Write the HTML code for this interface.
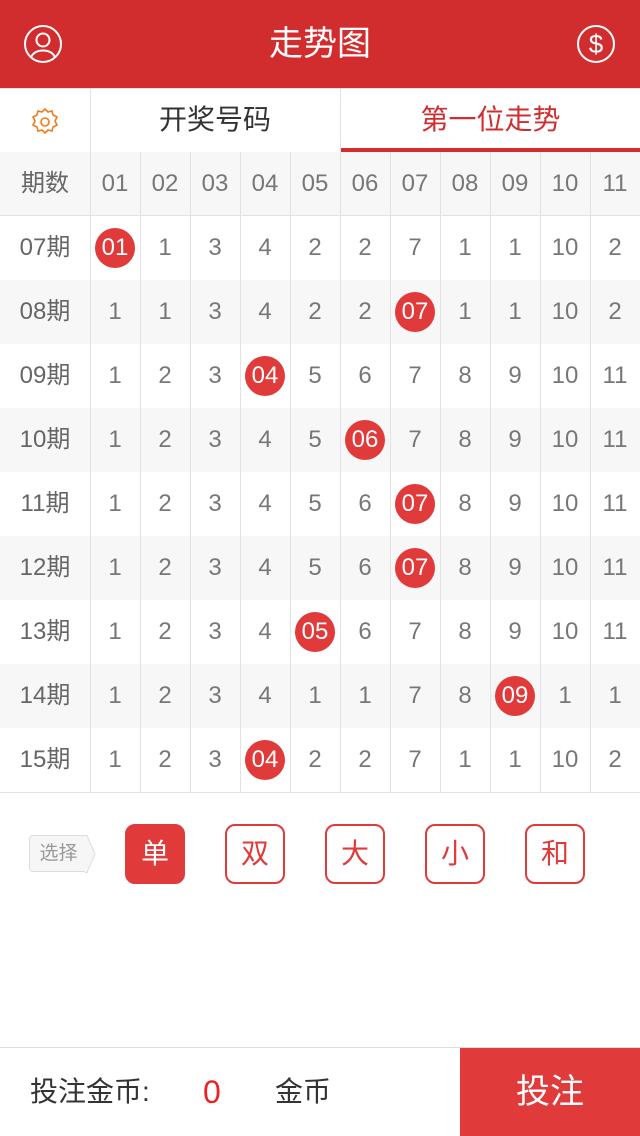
<!DOCTYPE html>
<html><head><meta charset="utf-8"><style>
*{margin:0;padding:0;box-sizing:border-box}
body{width:640px;height:1136px;position:relative;background:#fff;font-family:"Liberation Sans","Noto Sans CJK SC",sans-serif;overflow:hidden}
.abs{position:absolute}
#hdr{left:0;top:0;width:640px;height:88px;background:#d12d2f;color:#fff;font-size:34px;text-align:center;line-height:88px}
.tab{top:88px;height:64px;line-height:64px;text-align:center;font-size:28px}
.cell{position:absolute;height:64px;line-height:64px;text-align:center;font-size:24px;color:#777}
.vl{position:absolute;width:1px;background:#e2e2e2}
.dot{position:absolute;width:40px;height:40px;border-radius:20px;background:#e03a3b;color:#fff;text-align:center;line-height:40px;font-size:24px}
.opt{position:absolute;top:824px;width:60px;height:60px;border:2px solid #e03a3b;border-radius:10px;color:#e03a3b;font-size:28px;text-align:center;line-height:56px}
</style></head><body>
<div id="hdr" class="abs">走势图</div>
<svg class="abs" style="left:23px;top:24px" width="40" height="40"><circle cx="20" cy="20" r="18" fill="none" stroke="#fff" stroke-width="2"/><circle cx="20" cy="16" r="6.5" fill="none" stroke="#fff" stroke-width="2"/><path d="M8 34 C10 24 30 24 32 34" fill="none" stroke="#fff" stroke-width="2"/></svg>
<svg class="abs" style="left:576px;top:24px" width="40" height="40"><circle cx="20" cy="20" r="18" fill="none" stroke="#fff" stroke-width="2"/><text x="20" y="29" text-anchor="middle" fill="#fff" font-size="26" font-family="Liberation Sans">$</text></svg>
<div class="abs" style="left:0;top:88px;width:640px;height:1px;background:#e2e2e2"></div>
<svg class="abs" style="left:30px;top:107px" width="30" height="30"><circle cx="15" cy="15" r="4" fill="none" stroke="#f07b1d" stroke-width="1.6"/><path d="M15 2 l3 3 4-1 1 4 4 2-2 4 2 4-4 2-1 4-4-1-3 3-3-3-4 1-1-4-4-2 2-4-2-4 4-2 1-4 4 1z" fill="none" stroke="#f07b1d" stroke-width="1.6"/></svg>
<div class="vl" style="left:90px;top:88px;height:64px"></div>
<div class="abs tab" style="left:90px;width:250px;color:#333">开奖号码</div>
<div class="vl" style="left:340px;top:88px;height:64px"></div>
<div class="abs tab" style="left:341px;width:299px;color:#d12d2f">第一位走势</div>
<div class="abs" style="left:341px;top:148px;width:299px;height:4px;background:#d12d2f"></div>
<div id="grid" class="abs" style="left:0;top:152px;width:640px;height:641px"></div>
<div class="abs" style="left:29px;top:835px;width:58px;height:37px;background:#f6f6f6;border:1px solid #ddd;border-right:none;border-radius:4px 0 0 4px;color:#999;font-size:19px;line-height:35px;text-align:center">选择</div>
<svg class="abs" style="left:85px;top:835px" width="12" height="38"><path d="M0 0.5 L2 0.5 L10 19 L2 37.5 L0 37.5" fill="#f6f6f6" stroke="#ddd"/></svg>
<div class="opt" style="left:125px;background:#e03a3b;color:#fff">单</div>
<div class="opt" style="left:225px">双</div>
<div class="opt" style="left:325px">大</div>
<div class="opt" style="left:425px">小</div>
<div class="opt" style="left:525px">和</div>
<div class="abs" style="left:0;top:1047px;width:640px;height:1px;background:#ddd"></div>
<div class="abs" style="left:30px;top:1048px;height:88px;line-height:88px;font-size:28px;color:#333">投注金币:</div>
<div class="abs" style="left:203px;top:1048px;height:88px;line-height:88px;font-size:32px;color:#f02020">0</div>
<div class="abs" style="left:275px;top:1048px;height:88px;line-height:88px;font-size:28px;color:#333">金币</div>
<div class="abs" style="left:460px;top:1048px;width:180px;height:88px;line-height:88px;background:#e03a3b;color:#fff;font-size:34px;text-align:center">投注</div>
<script>
const columns=["01","02","03","04","05","06","07","08","09","10","11"];
const periods=["07期","08期","09期","10期","11期","12期","13期","14期","15期"];
const values=[
[1,1,3,4,2,2,7,1,1,10,2],
[1,1,3,4,2,2,7,1,1,10,2],
[1,2,3,4,5,6,7,8,9,10,11],
[1,2,3,4,5,6,7,8,9,10,11],
[1,2,3,4,5,6,7,8,9,10,11],
[1,2,3,4,5,6,7,8,9,10,11],
[1,2,3,4,5,6,7,8,9,10,11],
[1,2,3,4,1,1,7,8,9,1,1],
[1,2,3,4,2,2,7,1,1,10,2]];
const hitColumn=[0,6,3,5,6,6,4,8,3];
const g=document.getElementById('grid');
const X=i=>90+i*50, Y=r=>64+r*64;
function add(cls,st,txt){const d=document.createElement('div');d.className=cls;d.style.cssText=st;if(txt!==undefined)d.textContent=txt;g.appendChild(d);return d;}
const hb=add('','position:absolute;left:0;top:0;width:640px;height:64px;background:#f7f7f7');


const pc=add('cell','left:0;top:0;width:90px;color:#666','期数');


columns.forEach((c,i)=>{const e=add('cell',`left:${X(i)}px;top:0;width:50px`,c);

});
add('','position:absolute;left:0;top:63px;width:640px;height:1px;background:#e2e2e2');
periods.forEach((p,r)=>{
 if(r%2==1){const b=add('',`position:absolute;left:0;top:${Y(r)}px;width:640px;height:64px;background:#f7f7f7`);}
 const pl=add('cell',`left:0;top:${Y(r)}px;width:90px;color:#666`,p);
 
 
 values[r].forEach((v,i)=>{
  if(i===hitColumn[r]){const d=add('dot',`left:${X(i)+5}px;top:${Y(r)+12}px`,columns[i]);
   
   }
  else{const e=add('cell',`left:${X(i)}px;top:${Y(r)}px;width:50px`,String(v));
   
   }
 });
});
for(let i=0;i<11;i++)add('vl',`left:${X(i)}px;top:0;height:640px`);
add('','position:absolute;left:0;top:640px;width:640px;height:1px;background:#e2e2e2');
</script>
</body></html>
